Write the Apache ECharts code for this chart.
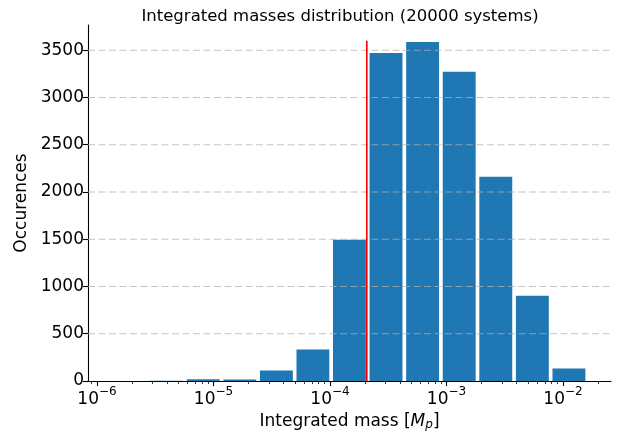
<!DOCTYPE html>
<html><head><meta charset="utf-8">
<script src="https://cdn.jsdelivr.net/npm/echarts@6/dist/echarts.min.js"></script>
<style>html,body{margin:0;padding:0;background:#fff}#c{width:623px;height:432px}</style>
</head><body><div id="c"></div>
<script>
// ---- data ----
const binEdges = [1.340e-6, 2.761e-6, 5.689e-6, 1.172e-5, 2.415e-5, 4.977e-5, 1.023e-4, 2.109e-4, 4.345e-4, 8.954e-4, 1.845e-3, 3.802e-3, 7.834e-3, 1.614e-2];
const counts = [1, 2, 18, 15, 110, 332, 1495, 3471, 3588, 3271, 2161, 903, 131];
const thresholdMass = 2.07e-4;
const thresholdTop = 3600;
const xMajorExponents = [-6, -5, -4, -3, -2];
const yTickValues = [0, 500, 1000, 1500, 2000, 2500, 3000, 3500];
const titleText = 'Integrated masses distribution (20000 systems)';
const yLabelText = 'Occurences';

// ---- derived ----
const FONT = 'DejaVu Sans';
const FS = 17;
const xMin = -6.077, xMax = -1.588, yMax = 3767;
const barData = counts.map((c, i) => [Math.log10(binEdges[i]), Math.log10(binEdges[i + 1]), c]);
const minorTicks = [];
for (let e = -7; e <= -2; e++) {
  for (let k = 2; k <= 9; k++) {
    const v = Math.log10(k) + e;
    if (v > xMin && v < xMax) minorTicks.push(v);
  }
}
const chart = echarts.init(document.getElementById('c'), null, {renderer: 'canvas'});
const option = {
  animation: false,
  backgroundColor: '#fff',
  title: {
    text: titleText, left: 335, top: 3, textAlign: 'center',
    textStyle: {fontFamily: FONT, fontSize: 16.5, fontWeight: 'normal', color: '#000'}
  },
  grid: {left: 88, right: 12, top: 25, bottom: 51, containLabel: false, outerBoundsMode: 'none'},
  xAxis: [{
    type: 'value', min: xMin, max: xMax,
    axisLine: {show: true, lineStyle: {color: '#000', width: 1.1}},
    axisTick: {show: true, customValues: xMajorExponents, length: 5, lineStyle: {color: '#000', width: 1.1}},
    axisLabel: {
      show: true, customValues: xMajorExponents, margin: 5, color: '#000',
      formatter: v => '{b|10}{s|\u2212' + Math.abs(Math.round(v)) + '}',
      rich: {
        b: {fontFamily: FONT, fontSize: FS, lineHeight: 22, verticalAlign: 'bottom', color: '#000'},
        s: {fontFamily: FONT, fontSize: 12, lineHeight: 13, verticalAlign: 'top', color: '#000'}
      }
    },
    splitLine: {show: false},
    name: '{a|Integrated mass [}{i|M}{p|p}{a|]}',
    nameLocation: 'middle', nameGap: 32,
    nameTextStyle: {
      rich: {
        a: {fontFamily: FONT, fontSize: FS, lineHeight: 22, verticalAlign: 'top', color: '#000'},
        i: {fontFamily: FONT, fontSize: FS, fontStyle: 'italic', lineHeight: 22, verticalAlign: 'top', color: '#000'},
        p: {fontFamily: FONT, fontSize: 12, fontStyle: 'italic', lineHeight: 22, verticalAlign: 'top', padding: [6, 0, 0, 0], color: '#000'}
      }
    }
  }, {
    type: 'value', min: xMin, max: xMax, position: 'bottom',
    axisLine: {show: false},
    axisTick: {show: true, customValues: minorTicks, length: 3, lineStyle: {color: '#000', width: 0.8}},
    axisLabel: {show: false},
    splitLine: {show: false}
  }],
  yAxis: {
    type: 'value', min: 0, max: yMax, interval: 500,
    axisLine: {show: true, lineStyle: {color: '#000', width: 1.1}},
    axisTick: {show: true, customValues: yTickValues, length: 5, lineStyle: {color: '#000', width: 1.1}},
    axisLabel: {customValues: yTickValues, margin: 4, color: '#000', fontFamily: FONT, fontSize: FS,
      formatter: v => String(Math.round(v))},
    splitLine: {show: false},
    name: yLabelText, nameLocation: 'middle', nameRotate: 90, nameGap: 57,
    nameTextStyle: {fontFamily: FONT, fontSize: FS, color: '#000'}
  },
  series: [{
    type: 'custom', xAxisIndex: 0, yAxisIndex: 0,
    encode: {x: [0, 1], y: 2},
    data: barData,
    z: 2,
    renderItem: function (params, api) {
      const l = api.value(0), r = api.value(1), h = api.value(2);
      const w = r - l;
      const p0 = api.coord([l + 0.05 * w, h]);
      const p1 = api.coord([r - 0.05 * w, 0]);
      return {type: 'rect', shape: {x: p0[0], y: p0[1], width: p1[0] - p0[0], height: p1[1] - p0[1]}, style: {fill: '#1f77b4'}};
    }
  }, {
    type: 'custom', xAxisIndex: 0, yAxisIndex: 0,
    encode: {y: 0},
    data: yTickValues.slice(1).map(v => [v]),
    z: 3, silent: true,
    renderItem: function (params, api) {
      const y = api.coord([xMin, api.value(0)])[1];
      const cs = params.coordSys;
      return {type: 'line', shape: {x1: cs.x, y1: y, x2: cs.x + cs.width, y2: y},
        style: {stroke: '#b0b0b0', lineWidth: 1.2, lineDash: [7, 3.5], opacity: 0.75}};
    }
  }, {
    type: 'custom', xAxisIndex: 0, yAxisIndex: 0,
    encode: {x: 0, y: 1},
    data: [[Math.log10(thresholdMass), thresholdTop]],
    z: 4, silent: true,
    renderItem: function (params, api) {
      const top = api.coord([api.value(0), api.value(1)]);
      const bot = api.coord([api.value(0), 0]);
      return {type: 'line', shape: {x1: top[0], y1: top[1], x2: bot[0], y2: bot[1]},
        style: {stroke: '#ff0000', lineWidth: 1.6}};
    }
  }]
};
chart.setOption(option);
</script></body></html>
